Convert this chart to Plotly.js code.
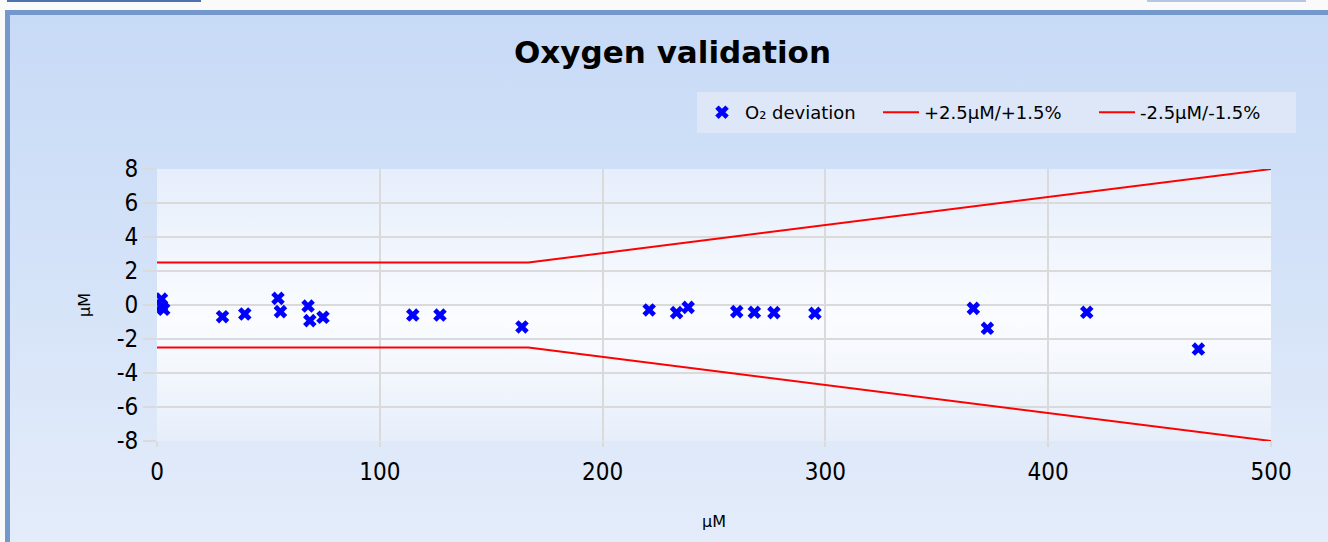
<!DOCTYPE html>
<html>
<head>
<meta charset="utf-8">
<script src="https://cdn.plot.ly/plotly-3.0.1.min.js"></script>
<style>
  html, body { margin: 0; padding: 0; width: 1328px; height: 542px; overflow: hidden; background: #fafafa; }
  #tabL { position: absolute; left: 7px; top: 0; width: 194px; height: 2px; background: #4f6fae; }
  #tabR { position: absolute; left: 1147px; top: 0; width: 159px; height: 2px; background: #b4c7e3; }
  #frame { position: absolute; left: 5px; top: 10px; right: 0; bottom: 0;
           border-top: 5px solid #7497cc; border-left: 5px solid #7497cc;
           background: linear-gradient(to bottom, #c7daf6 0%, #d3e2f8 45%, #e4ecfa 100%); }
  #plotbg { position: absolute; left: 157px; top: 169px; width: 1114px; height: 272px;
            background: linear-gradient(to bottom, #e6eefb 0%, #fafcff 55%, #f3f7fd 75%, #e6eefa 100%); }
  #chart { position: absolute; left: 0; top: 0; width: 1328px; height: 542px; }
</style>
</head>
<body>
<div id="tabL"></div>
<div id="tabR"></div>
<div id="frame"></div>
<div id="plotbg"></div>
<div id="chart"></div>
<script>
// O2 deviation data (x: µM reference, y: deviation µM)
const devX = [2, 2, 3, 29.4, 39.4, 54.3, 55.4, 67.8, 68.6, 74.5, 114.8, 127, 163.8,
              220.9, 233.2, 238.4, 260.2, 268.1, 276.9, 295.3, 366.4, 372.7, 417.3, 467.4];
const devY = [0.35, -0.05, -0.25, -0.69, -0.53, 0.39, -0.39, -0.06, -0.92, -0.72, -0.59, -0.59, -1.29,
              -0.29, -0.45, -0.14, -0.39, -0.43, -0.45, -0.49, -0.2, -1.37, -0.43, -2.59];
// Limit lines
const limX = [0, 166.7, 500];
const upperY = [2.5, 2.5, 8];
const lowerY = [-2.5, -2.5, -8];
const xTicks = [0, 100, 200, 300, 400, 500];
const yTicks = [-8, -6, -4, -2, 0, 2, 4, 6, 8];

const FONT = "'DejaVu Sans Condensed', 'DejaVu Sans', sans-serif";
const FONT2 = "'DejaVu Sans', sans-serif";

const traces = [
  { x: devX, y: devY, type: 'scatter', mode: 'markers', name: 'O₂ deviation', legendwidth: 128,
    marker: { symbol: 'x', size: 12, color: '#0000ff', line: { width: 0 } } },
  { x: limX, y: upperY, type: 'scatter', mode: 'lines', name: '+2.5µM/+1.5%', legendwidth: 165,
    line: { color: '#ff0000', width: 2 } },
  { x: limX, y: lowerY, type: 'scatter', mode: 'lines', name: '-2.5µM/-1.5%', legendwidth: 149,
    line: { color: '#ff0000', width: 2 } }
];

const layout = {
  width: 1328, height: 542,
  paper_bgcolor: 'rgba(0,0,0,0)', plot_bgcolor: 'rgba(0,0,0,0)',
  margin: { l: 157, r: 57, t: 169, b: 101 },
  font: { family: FONT, color: '#000000' },
  title: { text: '<b>Oxygen validation</b>', xref: 'container', yref: 'container',
           x: 0.5064, y: 0.904, xanchor: 'center', yanchor: 'middle',
           font: { family: FONT2, size: 31, color: '#000000' } },
  showlegend: true,
  legend: { orientation: 'h', xref: 'paper', yref: 'paper', x: (697 - 157) / 1114, y: 1.283,
            xanchor: 'left', yanchor: 'top', bgcolor: '#dde7f8', bordercolor: '#dde7f8', borderwidth: 2,
            itemwidth: 36,
            font: { family: FONT2, size: 18, color: '#000000' }, traceorder: 'normal' },
  xaxis: { range: [0, 500], tickvals: xTicks, ticktext: xTicks.map(String),
           showgrid: true, gridcolor: '#dadada', gridwidth: 2, zeroline: false,
           showline: false, ticks: 'outside', ticklen: 5, tickwidth: 2, tickcolor: '#dadada',
           tickfont: { family: FONT, size: 24, color: '#000000' }, ticklabelstandoff: 4,
           title: { text: 'µM', font: { family: FONT2, size: 16, color: '#000000' }, standoff: 31 },
           fixedrange: true },
  yaxis: { range: [-8, 8], tickvals: yTicks, ticktext: yTicks.map(String),
           showgrid: true, gridcolor: '#dadada', gridwidth: 2, zeroline: false,
           showline: false, ticks: 'outside', ticklen: 13, tickwidth: 2, tickcolor: '#dadada',
           tickfont: { family: FONT, size: 24, color: '#000000' }, ticklabelstandoff: 0,
           title: { text: 'µM', font: { family: FONT2, size: 16, color: '#000000' }, standoff: 22 },
           fixedrange: true }
};

Plotly.newPlot('chart', traces, layout, { displayModeBar: false, staticPlot: true });
</script>
</body>
</html>
